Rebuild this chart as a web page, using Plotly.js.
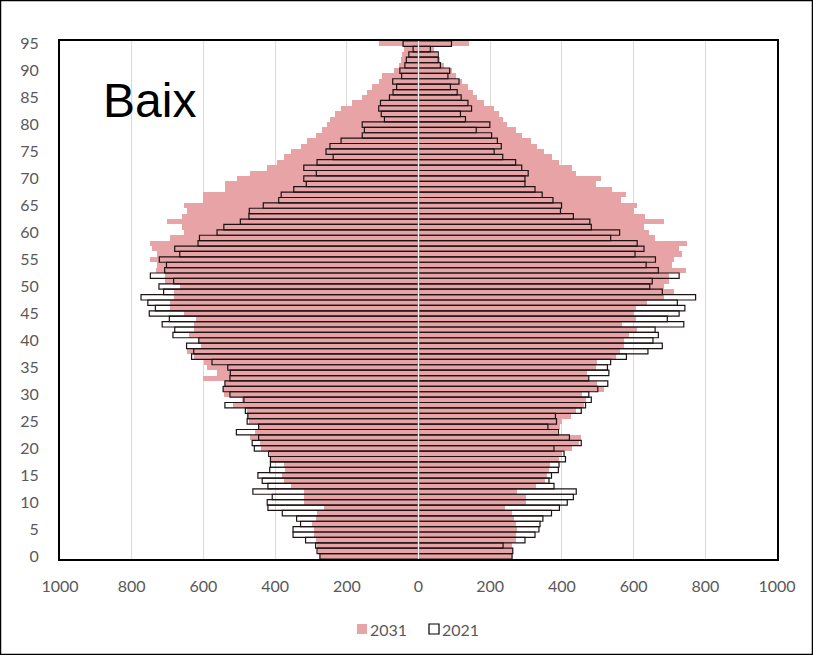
<!DOCTYPE html>
<html>
<head>
<meta charset="utf-8">
<script src="https://cdn.plot.ly/plotly-3.0.1.min.js"></script>
<style>
  html, body { margin: 0; padding: 0; background: #ffffff; }
  #chart { width: 813px; height: 655px; }
</style>
</head>
<body>
<div id="chart"></div>
<script>
// Ages 0..95 (95 = 95+)
const ages = [];
for (let a = 0; a <= 95; a++) ages.push(a);

// Left side (first sex), 2021 (outlined bars)
const left2021 = [275,283,287,315,350,350,329,340,380,420,
                  422,408,462,420,436,448,415,413,413,418,
                  458,464,446,508,446,478,476,483,540,487,
                  526,545,540,526,525,532,576,633,627,647,
                  613,685,680,715,695,751,734,755,774,711,
                  724,683,748,708,703,723,666,680,615,611,
                  562,543,497,473,472,433,390,383,348,313,
                  320,285,320,283,238,258,247,216,157,151,
                  157,95,104,111,106,81,71,61,72,47,
                  52,38,34,27,15,43];

// Left side, 2031 (filled pink bars)
const left2031 = [275,280,283,287,292,292,297,287,283,264,
                  320,320,320,357,376,380,372,376,411,413,
                  439,441,469,455,444,473,478,478,517,492,
                  543,545,539,601,562,590,599,625,646,607,
                  613,641,626,626,622,654,692,692,683,683,
                  664,706,706,731,729,748,729,743,748,692,
                  655,660,701,660,646,655,601,601,539,539,
                  506,469,422,394,376,357,329,311,287,269,
                  255,246,232,215,185,157,143,129,111,101,
                  69,55,50,46,41,111];

// Right side (second sex), 2021 (outlined bars)
const right2021 = [261,263,236,297,325,336,339,347,371,393,
                   415,432,440,378,364,371,390,392,410,406,
                   378,454,421,390,361,385,382,454,466,482,
                   475,500,528,475,531,527,536,580,640,680,
                   654,669,660,740,694,727,743,722,773,680,
                   645,652,727,669,635,661,604,629,610,536,
                   561,482,478,432,396,399,375,345,325,297,
                   297,306,288,271,235,211,231,220,204,161,
                   199,131,117,148,138,119,108,89,113,82,
                   87,61,55,55,33,92];

// Right side, 2031 (filled pink bars)
const right2031 = [261,264,262,271,271,275,271,266,262,241,
                   299,299,275,327,354,359,364,368,392,401,
                   429,447,452,387,396,401,424,438,461,466,
                   457,517,499,473,471,494,499,550,561,573,
                   573,587,610,568,606,601,606,638,685,713,
                   685,699,699,745,708,713,736,726,750,661,
                   643,629,685,633,601,610,564,578,540,494,
                   508,438,429,392,373,350,331,313,289,271,
                   247,235,224,210,183,163,152,138,120,105,
                   94,71,61,52,43,140];

const seriesNames = ['2031', '2021'];
const xTickVals = [-1000,-800,-600,-400,-200,0,200,400,600,800,1000];
const xTickText = ['1000','800','600','400','200','0','200','400','600','800','1000'];
const yTickVals = [0,5,10,15,20,25,30,35,40,45,50,55,60,65,70,75,80,85,90,95];
const chartTitle = 'Baix';

const pink = '#E7A3A5';
const outline = '#1c1414';

const traces = [
  { type: 'bar', orientation: 'h', y: ages, x: left2031.map(v => -v),
    name: seriesNames[0], showlegend: false,
    marker: { color: pink, line: { width: 0 } }, hoverinfo: 'skip' },
  { type: 'bar', orientation: 'h', y: ages, x: right2031,
    name: seriesNames[0], showlegend: false,
    marker: { color: pink, line: { width: 0 } }, hoverinfo: 'skip' },
  { type: 'bar', orientation: 'h', y: ages, x: left2021.map(v => -v),
    name: seriesNames[1], showlegend: false,
    marker: { color: 'rgba(255,255,255,0)', line: { color: outline, width: 1.2 } }, hoverinfo: 'skip' },
  { type: 'bar', orientation: 'h', y: ages, x: right2021,
    name: seriesNames[1], showlegend: false,
    marker: { color: 'rgba(255,255,255,0)', line: { color: outline, width: 1.2 } }, hoverinfo: 'skip' }
];

const tickFont = { family: 'Lato, "Open Sans", sans-serif', size: 16, color: '#595959' };

// Legend drawn as shapes + text (pixel positions converted to paper coords)
const plotL = 60, plotW = 717, plotB = 559, plotH = 518;
const px = v => (v - plotL) / plotW;
const py = v => (plotB - v) / plotH;

const layout = {
  width: 813, height: 655,
  margin: { l: 60, r: 36, t: 41, b: 96, pad: 0 },
  paper_bgcolor: '#ffffff', plot_bgcolor: '#ffffff',
  barmode: 'overlay', bargap: 0,
  showlegend: false,
  xaxis: {
    range: [-1000, 1000], tickvals: xTickVals, ticktext: xTickText,
    showgrid: true, gridcolor: '#d9d9d9', gridwidth: 1, zeroline: false,
    showline: true, mirror: true, linecolor: '#000000', linewidth: 2,
    ticks: 'outside', ticklen: 12, tickcolor: 'rgba(0,0,0,0)',
    tickfont: tickFont, fixedrange: true
  },
  yaxis: {
    range: [-0.5, 95.5], tickvals: yTickVals,
    showgrid: false, zeroline: false,
    showline: true, mirror: true, linecolor: '#000000', linewidth: 2,
    ticks: 'outside', ticklen: 16, tickcolor: 'rgba(0,0,0,0)',
    tickfont: tickFont, fixedrange: true
  },
  shapes: [
    { type: 'line', xref: 'x', yref: 'paper', x0: 0, x1: 0, y0: 0, y1: 1,
      line: { color: '#f4f4f4', width: 1.5 }, layer: 'above' },
    { type: 'rect', xref: 'paper', yref: 'paper',
      x0: -0.0830, x1: 1.0495, y0: -0.1844, y1: 1.0782,
      line: { color: '#000000', width: 1.5 }, fillcolor: 'rgba(0,0,0,0)', layer: 'above' },
    { type: 'rect', xref: 'paper', yref: 'paper',
      x0: px(357), x1: px(367), y0: py(634), y1: py(624),
      line: { width: 0 }, fillcolor: pink, layer: 'above' },
    { type: 'rect', xref: 'paper', yref: 'paper',
      x0: px(429), x1: px(439), y0: py(634), y1: py(624),
      line: { color: '#000000', width: 1.2 }, fillcolor: '#ffffff', layer: 'above' }
  ],
  annotations: [
    { text: chartTitle, xref: 'paper', yref: 'paper', x: 0.0572, y: 0.886,
      xanchor: 'left', yanchor: 'middle', showarrow: false,
      font: { family: '"Liberation Sans", Arial, sans-serif', size: 48, color: '#000000' } },
    { text: seriesNames[0], xref: 'paper', yref: 'paper', x: px(368), y: py(629),
      xanchor: 'left', yanchor: 'middle', showarrow: false, font: tickFont },
    { text: seriesNames[1], xref: 'paper', yref: 'paper', x: px(440), y: py(629),
      xanchor: 'left', yanchor: 'middle', showarrow: false, font: tickFont }
  ]
};

Plotly.newPlot('chart', traces, layout, { displayModeBar: false, staticPlot: true });
</script>
</body>
</html>
